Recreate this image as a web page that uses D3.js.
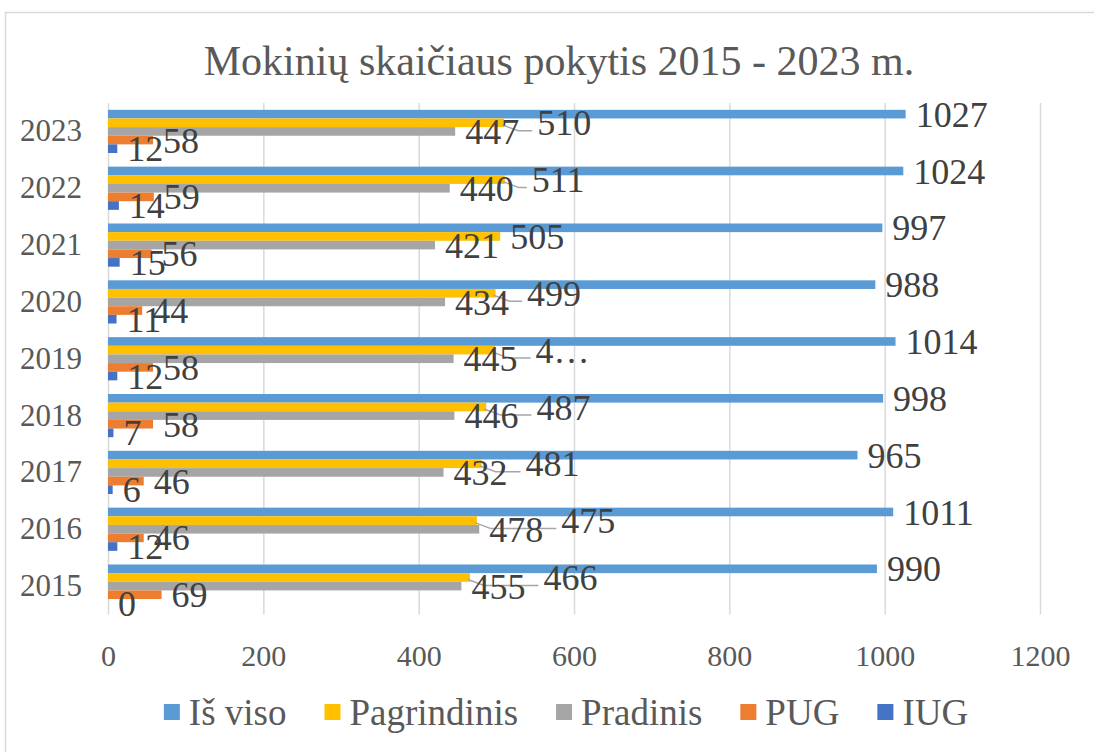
<!DOCTYPE html>
<html><head><meta charset="utf-8">
<script src="https://cdn.jsdelivr.net/npm/d3@7"></script>
<style>body{margin:0;background:#fff}
svg{font-family:"Liberation Serif","Times New Roman",Tinos}</style></head>
<body><div id="chart"></div>
<script>
// data
const years = [2015, 2016, 2017, 2018, 2019, 2020, 2021, 2022, 2023];
const seriesNames = ['Iš viso', 'Pagrindinis', 'Pradinis', 'PUG', 'IUG'];
const isViso      = [990, 1011, 965, 998, 1014, 988, 997, 1024, 1027];
const pagrindinis = [466, 475, 481, 487, 498, 499, 505, 511, 510];
const pradinis    = [455, 478, 432, 446, 445, 434, 421, 440, 447];
const pug         = [69, 46, 46, 58, 58, 44, 56, 59, 58];
const iug         = [0, 12, 6, 7, 12, 11, 15, 14, 12];
const xTicks = [0, 200, 400, 600, 800, 1000, 1200];
// label that Excel cut short in the original
const labelOverrides = { 'Pagrindinis-2019': '4…' };

const colors = ['#5B9BD5', '#FFC000', '#A5A5A5', '#ED7D31', '#4472C4'];
const seriesValues = [isViso, pagrindinis, pradinis, pug, iug];
const fontName = '"Liberation Serif"';

let w = 1094, h = 752;
let plot = { left: 108, right: 1040, top: 103, bottom: 614.5 };

let svg = d3.select('#chart').append('svg').attr('width', w).attr('height', h);

// chart frame (cut off at right/bottom like the screenshot)
svg.append('rect').attr('x', 5.5).attr('y', 12.5).attr('width', w + 20).attr('height', h + 20)
    .attr('fill', '#fff').attr('stroke', '#D9D9D9').attr('stroke-width', 1.5);

svg.append('text').attr('x', 559).attr('y', 75).attr('text-anchor', 'middle')
    .attr('font-size', 42).attr('fill', '#595959').style('font-family', fontName)
    .text('Mokinių skaičiaus pokytis 2015 - 2023 m.');

let x = d3.scaleLinear().domain([0, 1200]).range([plot.left, plot.right]);
let y = d3.scaleBand().domain(years.slice().reverse()).range([plot.top, plot.bottom])
    .paddingInner(0.24).paddingOuter(0.12);
let ySeries = d3.scaleBand().domain(seriesNames).range([0, y.bandwidth()]);

// gridlines + tick labels
let xAxis = svg.append('g').attr('transform', `translate(0,${plot.bottom})`)
    .call(d3.axisBottom(x).tickValues(xTicks).tickFormat(d3.format('d'))
        .tickSize(-(plot.bottom - plot.top)).tickPadding(0));
xAxis.attr('font-family', null).attr('font-size', null);
xAxis.select('.domain').remove();
xAxis.selectAll('line').attr('stroke', '#D9D9D9').attr('stroke-width', 1.5);
xAxis.selectAll('text').attr('y', 51).attr('dy', null).attr('fill', '#595959')
    .attr('font-size', 30).style('font-family', fontName);

let yAxis = svg.append('g').attr('transform', `translate(${plot.left},0)`)
    .call(d3.axisLeft(y).tickSize(0).tickPadding(26));
yAxis.attr('font-family', null).attr('font-size', null);
yAxis.select('.domain').remove();
yAxis.selectAll('text').attr('fill', '#595959').attr('font-size', 31).style('font-family', fontName);

// flat list of bars
let bars = [];
years.forEach((yr, i) => {
    seriesNames.forEach((s, k) => {
        bars.push({ year: yr, series: s, k: k, value: seriesValues[k][i] });
    });
});

let barG = svg.append('g');
barG.selectAll('rect').data(bars).join('rect')
    .attr('x', x(0))
    .attr('y', d => y(d.year) + ySeries(d.series))
    .attr('width', d => x(d.value) - x(0))
    .attr('height', ySeries.bandwidth())
    .attr('fill', d => colors[d.k]);

// data labels, outside end
let labelG = svg.append('g');
let leaderG = svg.insert('g', () => labelG.node());
let gap = 10;
let labelBoxes = {};
bars.forEach(d => {
    let txt = labelOverrides[d.series + '-' + d.year] || String(d.value);
    let cy = y(d.year) + ySeries(d.series) + ySeries.bandwidth() / 2;
    let t = labelG.append('text')
        .attr('x', x(d.value) + gap).attr('y', cy).attr('dy', '0.35em')
        .attr('font-size', 36).attr('fill', '#404040').style('font-family', fontName).text(txt);
    labelBoxes[d.series + '-' + d.year] = { node: t, x: x(d.value) + gap, w: t.node().getComputedTextLength(), cy: cy, d: d };
});

// Pagrindinis labels collide with Pradinis ones: push them right with a leader line
years.forEach(yr => {
    let p = labelBoxes['Pagrindinis-' + yr];
    let q = labelBoxes['Pradinis-' + yr];
    let qRight = q.x + q.w;
    if (p.x < qRight + 6) {
        let nx = qRight + 18;
        p.node.attr('x', nx);
        leaderG.append('path')
            .attr('d', `M${x(p.d.value) - 2},${p.cy + 2} L${x(p.d.value) + 14},${p.cy + 8} L${nx - 5},${p.cy + 8}`)
            .attr('fill', 'none').attr('stroke', '#A6A6A6').attr('stroke-width', 1.5);
    }
});

// legend
let legend = svg.append('g');
let lx = 0, itemGap = 38;
seriesNames.forEach((s, k) => {
    let item = legend.append('g').attr('transform', `translate(${lx},0)`);
    item.append('rect').attr('x', 0).attr('y', -8).attr('width', 16).attr('height', 16).attr('fill', colors[k]);
    let t = item.append('text').attr('x', 25).attr('y', 0).attr('dy', '0.35em')
        .attr('font-size', 37).attr('fill', '#595959').style('font-family', fontName).text(s);
    lx += 25 + t.node().getComputedTextLength() + itemGap;
});
let legendW = lx - itemGap;
legend.attr('transform', `translate(${566 - legendW / 2},712)`);
</script>
</body></html>
